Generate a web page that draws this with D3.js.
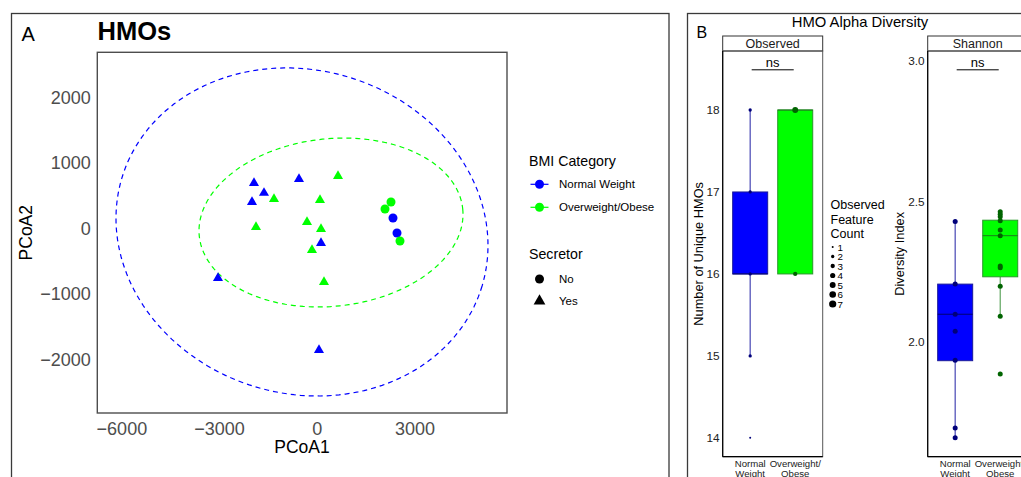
<!DOCTYPE html>
<html>
<head>
<meta charset="utf-8">
<script src="https://cdn.jsdelivr.net/npm/d3@7"></script>
<style>
  body { margin: 0; background: #fff; }
  svg { display: block; font-family: "Liberation Sans", Arial, sans-serif; }
</style>
</head>
<body>
<div id="viz"></div>
<script>
// ---- panel A : PCoA of HMOs ----
var bmiGroups = ['Normal Weight', 'Overweight/Obese'];
var secretorGroups = ['No', 'Yes'];
var pcoa1 = [-1944, -1637, -2005, -562, 114, -3049, 52,
             636, -1330, 83, -1882, -316, 114, -163, 206,
             2263, 2079, 2324, 2447, 2539];
var pcoa2 = [691, 539, 401, 752, -224, -758, -1857,
             798, 447, 432, 20, 96, -11, -331, -820,
             401, 294, 157, -72, -194];
var bmi = [0, 0, 0, 0, 0, 0, 0,
           1, 1, 1, 1, 1, 1, 1, 1,
           1, 1, 0, 0, 1];
var secretor = [1, 1, 1, 1, 1, 1, 1,
                1, 1, 1, 1, 1, 1, 1, 1,
                0, 0, 0, 0, 0];
var pcoaTicksX = [-6000, -3000, 0, 3000];
var pcoaTicksY = [-2000, -1000, 0, 1000, 2000];
// 95% ellipses: centre and two conjugate half axes (data units)
var ellipseCenter = [[-470, -56], [421, 88]];
var ellipseAxisU = [[5530, -824], [4044, 211]];
var ellipseAxisV = [[-1428, -2363], [269, -1271]];

// ---- panel B : alpha diversity ----
var groupLabels = [['Normal', 'Weight'], ['Overweight/', 'Obese']];
var observedValues = [[14, 15, 16, 17, 18], [16, 18]];
var observedCounts = [[1, 2, 2, 2, 2], [3, 5]];
// low whisker, q1, median, q3, high whisker
var observedBox = [[15, 16, 16, 17, 18], [16, 16, 18, 18, 18]];
var observedTicks = [14, 15, 16, 17, 18];
var shannonValues = [[2.428, 2.206, 2.099, 2.039, 1.936, 1.695, 1.660],
                     [2.463, 2.454, 2.445, 2.431, 2.398, 2.378, 2.270, 2.264, 2.198, 2.092, 1.887]];
var shannonBox = [[1.660, 1.934, 2.099, 2.206, 2.428], [2.092, 2.232, 2.378, 2.433, 2.463]];
var shannonTicks = [2.0, 2.5, 3.0];
var countLegend = [1, 2, 3, 4, 5, 6, 7];

var bmiColor = ['#0000ff', '#00ff00'];
var dotColor = ['#00007a', '#006400'];
var boxStroke = ['#1a1a99', '#2a962a'];
var whiskerColor = ['#4646b4', '#5fa55f'];
var medianColor = ['#000070', '#1c7a1c'];

var W = 1021, H = 477;
var svg = d3.select('#viz').append('svg').attr('width', W).attr('height', H);
svg.append('rect').attr('width', W).attr('height', H).attr('fill', '#fff');

// outer frames
svg.append('rect').attr('x', 11.5).attr('y', 13.5).attr('width', 657.5).attr('height', 490)
  .attr('fill', 'none').attr('stroke', '#3a3a3a').attr('stroke-width', 1.3);
svg.append('rect').attr('x', 687.5).attr('y', 13.5).attr('width', 400).attr('height', 490)
  .attr('fill', 'none').attr('stroke', '#3a3a3a').attr('stroke-width', 1.3);

drawPcoa();
drawAlpha();

function drawPcoa() {
  var x = d3.scaleLinear().domain([-6755, 5825]).range([97.3, 507]);
  var y = d3.scaleLinear().domain([-2818, 2685]).range([413, 52.3]);
  var fmt = d3.format('d');

  svg.append('text').attr('x', 21.5).attr('y', 41).attr('font-size', 20).text('A');
  svg.append('text').attr('x', 97.5).attr('y', 40).attr('font-size', 25.5)
    .attr('font-weight', 'bold').text('HMOs');

  svg.append('rect').attr('x', x.range()[0]).attr('y', y.range()[1])
    .attr('width', x.range()[1] - x.range()[0]).attr('height', y.range()[0] - y.range()[1])
    .attr('fill', 'none').attr('stroke', '#4d4d4d').attr('stroke-width', 1.4);

  svg.selectAll('.xt').data(pcoaTicksX).enter().append('text')
    .attr('x', function(d) { return x(d); }).attr('y', 435)
    .attr('text-anchor', 'middle').attr('font-size', 18).attr('fill', '#4d4d4d')
    .text(function(d) { return fmt(d); });
  svg.selectAll('.yt').data(pcoaTicksY).enter().append('text')
    .attr('x', 90.7).attr('y', function(d) { return y(d); }).attr('dy', '0.36em')
    .attr('text-anchor', 'end').attr('font-size', 18).attr('fill', '#4d4d4d')
    .text(function(d) { return fmt(d); });

  svg.append('text').attr('x', 302).attr('y', 452.7).attr('text-anchor', 'middle')
    .attr('font-size', 17.5).text('PCoA1');
  svg.append('text').attr('transform', 'translate(32,232.7) rotate(-90)')
    .attr('text-anchor', 'middle').attr('font-size', 17.5).text('PCoA2');

  // ellipses
  var line = d3.line().curve(d3.curveLinearClosed);
  ellipseCenter.forEach(function(c, g) {
    var u = ellipseAxisU[g], v = ellipseAxisV[g];
    var pts = d3.range(0, 2 * Math.PI, Math.PI / 90).map(function(t) {
      return [x(c[0] + u[0] * Math.cos(t) + v[0] * Math.sin(t)),
              y(c[1] + u[1] * Math.cos(t) + v[1] * Math.sin(t))];
    });
    svg.append('path').attr('d', line(pts)).attr('fill', 'none')
      .attr('stroke', bmiColor[g]).attr('stroke-width', 1.2).attr('stroke-dasharray', '5,4');
  });

  // points
  var tri = d3.symbol().type(d3.symbolTriangle).size(44);
  pcoa1.forEach(function(px, i) {
    if (secretor[i] === 1) {
      svg.append('path').attr('d', tri)
        .attr('transform', 'translate(' + x(px) + ',' + y(pcoa2[i]) + ')')
        .attr('fill', bmiColor[bmi[i]]);
    } else {
      svg.append('circle').attr('cx', x(px)).attr('cy', y(pcoa2[i])).attr('r', 4.5)
        .attr('fill', bmiColor[bmi[i]]);
    }
  });

  // legends
  svg.append('text').attr('x', 529).attr('y', 165.5).attr('font-size', 14.2).text('BMI Category');
  bmiGroups.forEach(function(d, i) {
    var cy = 184.3 + i * 23;
    svg.append('line').attr('x1', 530.5).attr('x2', 548.5).attr('y1', cy).attr('y2', cy)
      .attr('stroke', bmiColor[i]).attr('stroke-width', 1.2);
    svg.append('circle').attr('cx', 539.5).attr('cy', cy).attr('r', 4.5).attr('fill', bmiColor[i]);
    svg.append('text').attr('x', 559).attr('y', cy).attr('dy', '0.36em')
      .attr('font-size', 11.5).text(d);
  });
  svg.append('text').attr('x', 529).attr('y', 259.3).attr('font-size', 14.2).text('Secretor');
  secretorGroups.forEach(function(d, i) {
    var cy = 279 + i * 22;
    if (i === 0) {
      svg.append('circle').attr('cx', 539.5).attr('cy', cy).attr('r', 4.5).attr('fill', '#000');
    } else {
      svg.append('path').attr('d', d3.symbol().type(d3.symbolTriangle).size(60))
        .attr('transform', 'translate(539.5,' + cy + ')').attr('fill', '#000');
    }
    svg.append('text').attr('x', 559).attr('y', cy).attr('dy', '0.36em')
      .attr('font-size', 11.5).text(d);
  });
}

function drawAlpha() {
  svg.append('text').attr('x', 696.5).attr('y', 38).attr('font-size', 16).text('B');
  svg.append('text').attr('x', 860).attr('y', 26.7).attr('text-anchor', 'middle')
    .attr('font-size', 14.8).text('HMO Alpha Diversity');

  var yObs = d3.scaleLinear().domain([13.77, 18.72]).range([456.7, 51]);
  var yShan = d3.scaleLinear().domain([1.593, 3.034]).range([456.7, 51]);

  facet(722.7, 'Observed', yObs, observedTicks, d3.format('d'), observedBox,
        function(g) {
          return observedValues[g].map(function(v, k) { return { v: v, c: observedCounts[g][k] }; });
        }, 'Number of Unique HMOs', 703);
  facet(927.7, 'Shannon', yShan, shannonTicks, d3.format('.1f'), shannonBox,
        function(g) {
          return shannonValues[g].map(function(v) { return { v: v, c: null }; });
        }, 'Diversity Index', 903.5);

  // size legend
  var rScale = d3.scaleSqrt().domain([1, 7]).range([1.0, 3.6]);
  ['Observed', 'Feature', 'Count'].forEach(function(t, i) {
    svg.append('text').attr('x', 830.5).attr('y', 209.3 + i * 14.5).attr('font-size', 12.5).text(t);
  });
  countLegend.forEach(function(c, i) {
    var cy = 247 + i * 9.5;
    svg.append('circle').attr('cx', 832.7).attr('cy', cy).attr('r', rScale(c)).attr('fill', '#000');
    svg.append('text').attr('x', 837.5).attr('y', cy).attr('dy', '0.36em')
      .attr('font-size', 9.8).text(c);
  });
}

function facet(left, label, y, ticks, fmt, box, points, ytitle, ytitleX) {
  var pw = 100;
  var top = y.range()[1], bottom = y.range()[0];
  var x = d3.scalePoint().domain([0, 1]).range([left, left + pw]).padding(0.61);
  var bw = 35;
  var rScale = d3.scaleSqrt().domain([1, 7]).range([1.0, 3.6]);

  // strip
  svg.append('rect').attr('x', left).attr('y', 36).attr('width', pw).attr('height', 15)
    .attr('fill', '#fff').attr('stroke', '#333').attr('stroke-width', 1);
  svg.append('text').attr('x', left + pw / 2).attr('y', 48).attr('text-anchor', 'middle')
    .attr('font-size', 12.5).attr('fill', '#1a1a1a').text(label);

  // panel frame
  svg.append('rect').attr('x', left).attr('y', top).attr('width', pw).attr('height', bottom - top)
    .attr('fill', 'none').attr('stroke', '#555').attr('stroke-width', 1);
  svg.append('line').attr('x1', left).attr('x2', left).attr('y1', top).attr('y2', bottom)
    .attr('stroke', '#000').attr('stroke-width', 1.2);
  svg.append('line').attr('x1', left).attr('x2', left + pw).attr('y1', bottom).attr('y2', bottom)
    .attr('stroke', '#000').attr('stroke-width', 1.2);

  svg.selectAll(null).data(ticks).enter().append('text')
    .attr('x', left - 3).attr('y', function(d) { return y(d); }).attr('dy', '0.36em')
    .attr('text-anchor', 'end').attr('font-size', 11.8).attr('fill', '#222')
    .text(function(d) { return fmt(d); });

  svg.append('text').attr('transform', 'translate(' + ytitleX + ',' + ((top + bottom) / 2) + ') rotate(-90)')
    .attr('text-anchor', 'middle').attr('font-size', 12.8).text(ytitle);

  groupLabels.forEach(function(lines, g) {
    lines.forEach(function(t, k) {
      svg.append('text').attr('x', x(g)).attr('y', 466.7 + k * 10).attr('text-anchor', 'middle')
        .attr('font-size', 9.6).attr('fill', '#222').text(t);
    });
  });

  // boxes
  box.forEach(function(b, g) {
    var cx = x(g);
    svg.append('line').attr('x1', cx).attr('x2', cx).attr('y1', y(b[0])).attr('y2', y(b[1]))
      .attr('stroke', whiskerColor[g]).attr('stroke-width', 1.2);
    svg.append('line').attr('x1', cx).attr('x2', cx).attr('y1', y(b[3])).attr('y2', y(b[4]))
      .attr('stroke', whiskerColor[g]).attr('stroke-width', 1.2);
    svg.append('rect').attr('x', cx - bw / 2).attr('y', y(b[3])).attr('width', bw)
      .attr('height', y(b[1]) - y(b[3])).attr('fill', bmiColor[g])
      .attr('stroke', boxStroke[g]).attr('stroke-width', 1);
    svg.append('line').attr('x1', cx - bw / 2).attr('x2', cx + bw / 2)
      .attr('y1', y(b[2])).attr('y2', y(b[2]))
      .attr('stroke', medianColor[g]).attr('stroke-width', 1);
    points(g).forEach(function(p) {
      svg.append('circle').attr('cx', cx).attr('cy', y(p.v))
        .attr('r', p.c === null ? 2.5 : rScale(p.c)).attr('fill', dotColor[g]);
    });
  });

  // significance bracket
  svg.append('line').attr('x1', x(0) + 1.5).attr('x2', x(1) - 1.5).attr('y1', 69.8).attr('y2', 69.8)
    .attr('stroke', '#000').attr('stroke-width', 1);
  svg.append('text').attr('x', (x(0) + x(1)) / 2).attr('y', 66.5).attr('text-anchor', 'middle')
    .attr('font-size', 13).text('ns');
}
</script>
</body>
</html>
